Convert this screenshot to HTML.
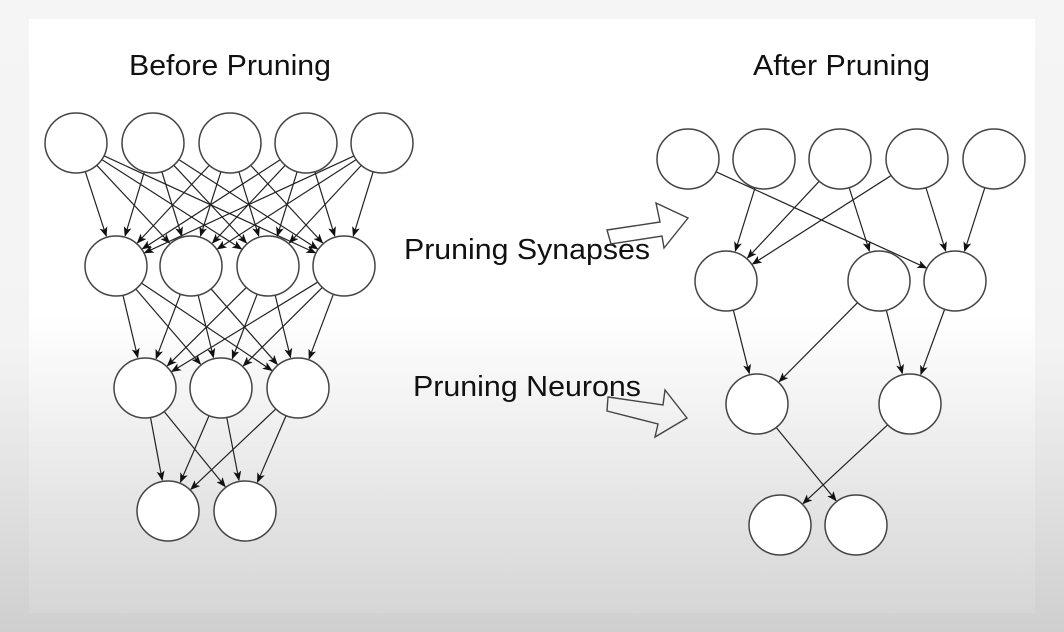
<!DOCTYPE html>
<html><head><meta charset="utf-8"><style>
html,body{margin:0;padding:0;}
body{width:1064px;height:632px;overflow:hidden;background:linear-gradient(#f5f5f5 0%,#f3f3f3 55%,#cfcfcf 100%);position:relative;font-family:"Liberation Sans",sans-serif;}
#panel{position:absolute;left:29px;top:19px;width:1006px;height:594px;background:linear-gradient(#ffffff 0%,#ffffff 50%,#e6e6e6 80%,#d6d6d6 100%);}
svg{position:absolute;left:0;top:0;}
</style></head><body>
<div id="panel"></div>
<svg id="s" width="1064" height="632" viewBox="0 0 1064 632">
<defs><marker id="a" markerWidth="10" markerHeight="8" refX="9" refY="4" orient="auto" markerUnits="userSpaceOnUse"><path d="M0,0 L10,4 L0,8 L2.5,4 Z" fill="#111"/></marker></defs>
<g font-family="Liberation Sans, sans-serif" font-size="29" fill="#111">
<text x="129" y="75" textLength="202" lengthAdjust="spacingAndGlyphs">Before Pruning</text>
<text x="753" y="75" textLength="177" lengthAdjust="spacingAndGlyphs">After Pruning</text>
<text x="404" y="259" textLength="246" lengthAdjust="spacingAndGlyphs">Pruning Synapses</text>
<text x="413" y="396" textLength="228" lengthAdjust="spacingAndGlyphs">Pruning Neurons</text>
</g>
<g fill="none" stroke="#444" stroke-width="1.4">
<polygon points="607,230 660,222 656,203 688,218 664,248 662,236 611,244"/>
<polygon points="608,397 663,405 665,390 687,418 655,437 658,424 607,411"/>
</g>
<g id="e" stroke="#222" stroke-width="1.2" fill="none"></g>
<g id="n" stroke="#444" stroke-width="1.5" fill="#fff"></g>
</svg>
<script>
var L=[[[76,143],[153,143],[230,143],[306,143],[382,143]],[[116,266],[191,266],[268,266],[344,266]],[[145,388],[221,388],[298,388]],[[168,511],[245,511]]];
var R=[[[688,159],[764,159],[840,159],[917,159],[994,159]],[[726,281],[879,281],[955,281]],[[757,404],[910,404]],[[780,525],[856,525]]];
var r=30.5,ns="http://www.w3.org/2000/svg",e=document.getElementById('e'),n=document.getElementById('n');
function edge(a,b){var dx=b[0]-a[0],dy=b[1]-a[1],d=Math.hypot(dx,dy),ux=dx/d,uy=dy/d;
var l=document.createElementNS(ns,'line');l.setAttribute('x1',a[0]+ux*r);l.setAttribute('y1',a[1]+uy*r);l.setAttribute('x2',b[0]-ux*(r+1));l.setAttribute('y2',b[1]-uy*(r+1));l.setAttribute('marker-end','url(#a)');e.appendChild(l);}
for(var i=0;i<3;i++)L[i].forEach(function(a){L[i+1].forEach(function(b){edge(a,b);});});
[[0,0,2],[0,1,0],[0,2,0],[0,2,1],[0,3,0],[0,3,2],[0,4,2],[1,0,0],[1,1,0],[1,1,1],[1,2,1],[2,0,1],[2,1,0]].forEach(function(t){edge(R[t[0]][t[1]],R[t[0]+1][t[2]]);});
L.concat(R).forEach(function(row){row.forEach(function(p){var c=document.createElementNS(ns,'ellipse');c.setAttribute('cx',p[0]);c.setAttribute('cy',p[1]);c.setAttribute('rx',31);c.setAttribute('ry',30);n.appendChild(c);});});
</script>
</body></html>
